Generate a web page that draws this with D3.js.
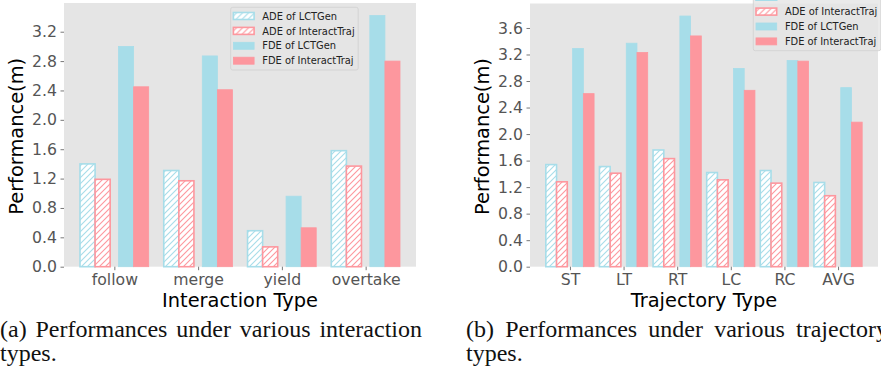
<!DOCTYPE html>
<html>
<head>
<meta charset="utf-8">
<script src="https://cdn.jsdelivr.net/npm/d3@7"></script>
<style>
  body { margin: 0; width: 881px; height: 370px; overflow: hidden; background: #fff; position: relative; }
  svg { position: absolute; left: 0; top: 0; }
  .caption { position: absolute; width: 422px; font-family: "Liberation Serif", "Times New Roman", serif;
             font-size: 24px; line-height: 24px; text-align: justify; color: #111; white-space: normal; }
</style>
</head>
<body>
<script>
const W = 881, H = 370;

// series names
const seriesNames = ["ADE of LCTGen", "ADE of InteractTraj", "FDE of LCTGen", "FDE of InteractTraj"];

// (a) interaction types
const interactionTypes = ["follow", "merge", "yield", "overtake"];
const adeLCTGenInteraction = [1.40, 1.31, 0.49, 1.58];
const adeInteractTrajInteraction = [1.19, 1.17, 0.27, 1.37];
const fdeLCTGenInteraction = [3.00, 2.87, 0.96, 3.42];
const fdeInteractTrajInteraction = [2.45, 2.41, 0.53, 2.80];
const interactionTicks = [0, 0.4, 0.8, 1.2, 1.6, 2.0, 2.4, 2.8, 3.2];

// (b) trajectory types
const trajectoryTypes = ["ST", "LT", "RT", "LC", "RC", "AVG"];
const adeLCTGenTrajectory = [1.54, 1.51, 1.76, 1.42, 1.45, 1.27];
const adeInteractTrajTrajectory = [1.28, 1.41, 1.63, 1.31, 1.26, 1.07];
const fdeLCTGenTrajectory = [3.29, 3.37, 3.78, 2.99, 3.11, 2.70];
const fdeInteractTrajTrajectory = [2.61, 3.23, 3.48, 2.66, 3.10, 2.18];
const trajectoryTicks = [0, 0.4, 0.8, 1.2, 1.6, 2.0, 2.4, 2.8, 3.2, 3.6];

const blue = "#a7dde9";
const pink = "#fd979e";
const bg = "#e5e5e5";
const tickColor = "#555";

const svg = d3.select("body").append("svg").attr("width", W).attr("height", H);
const defs = svg.append("defs");

function hatch(id, color) {
  const p = defs.append("pattern").attr("id", id)
    .attr("patternUnits", "userSpaceOnUse").attr("width", 6).attr("height", 6);
  p.append("rect").attr("width", 6).attr("height", 6).attr("fill", "#fff");
  p.append("path").attr("d", "M0,6 L6,0 M-1,1 L1,-1 M5,7 L7,5")
    .attr("stroke", color).attr("stroke-width", 1.1);
}
hatch("hatch-blue", blue);
hatch("hatch-pink", pink);

const styles = [
  { fill: "url(#hatch-blue)", stroke: blue, sw: 1.6 },
  { fill: "url(#hatch-pink)", stroke: pink, sw: 1.6 },
  { fill: blue, stroke: blue, sw: 0.8 },
  { fill: pink, stroke: pink, sw: 0.8 }
];

function drawChart(cfg) {
  const g = svg.append("g");
  const n = cfg.categories.length;
  const lo = d3.min(cfg.offsets) - cfg.barWidth / 2;
  const hi = n - 1 + d3.max(cfg.offsets) + cfg.barWidth / 2;
  const pad = (hi - lo) * 0.05;
  const x = d3.scaleLinear().domain([lo - pad, hi + pad]).range([cfg.left, cfg.right]);
  const ymax = d3.max(cfg.series.flat()) * 1.05;
  const y = d3.scaleLinear().domain([0, ymax]).range([cfg.bottom, cfg.top]);

  g.append("rect").attr("x", cfg.left).attr("y", cfg.top)
    .attr("width", cfg.right - cfg.left).attr("height", cfg.bottom - cfg.top).attr("fill", bg);

  cfg.series.forEach((vals, s) => {
    g.append("g").selectAll("rect")
      .data(vals)
      .join("rect")
      .attr("x", (d, i) => x(i + cfg.offsets[s] - cfg.barWidth / 2))
      .attr("width", x(cfg.barWidth) - x(0))
      .attr("y", d => y(d))
      .attr("height", d => y(0) - y(d))
      .attr("fill", styles[s].fill)
      .attr("stroke", styles[s].stroke)
      .attr("stroke-width", styles[s].sw);
  });

  const xAxis = g.append("g").attr("transform", `translate(0,${cfg.bottom})`)
    .call(d3.axisBottom(x).tickValues(d3.range(n)).tickFormat(i => cfg.categories[i])
      .tickSizeInner(3.5).tickSizeOuter(0).tickPadding(3.5));
  const yAxis = g.append("g").attr("transform", `translate(${cfg.left},0)`)
    .call(d3.axisLeft(y).tickValues(cfg.yTicks).tickFormat(d3.format(".1f"))
      .tickSizeInner(3.5).tickSizeOuter(0).tickPadding(3.5));
  [xAxis, yAxis].forEach(a => {
    a.select(".domain").remove();
    a.selectAll("line").attr("stroke", tickColor).attr("stroke-width", 0.8);
    a.selectAll("text").attr("fill", tickColor)
      .attr("font-family", "DejaVu Sans").attr("font-size", 15.7);
  });

  g.append("text").attr("x", (cfg.left + cfg.right) / 2).attr("y", 307)
    .attr("text-anchor", "middle").attr("font-family", "DejaVu Sans").attr("font-size", 19.4)
    .attr("fill", "#000").text(cfg.xTitle);
  g.append("text").attr("transform", `translate(${cfg.yTitleX},${(cfg.top + cfg.bottom) / 2 + 1.5}) rotate(-90)`)
    .attr("text-anchor", "middle").attr("font-family", "DejaVu Sans").attr("font-size", 19.4)
    .attr("fill", "#000").text("Performance(m)");

  // legend
  const lg = g.append("g").attr("transform", `translate(${cfg.legendX},${cfg.legendY})`);
  lg.append("rect").attr("x", 0).attr("y", 0).attr("width", 127.5).attr("height", 62.7)
    .attr("rx", 2).attr("fill", bg).attr("fill-opacity", 0.8)
    .attr("stroke", "#cfcfcf").attr("stroke-width", 0.8);
  const items = lg.selectAll("g.item").data(seriesNames).join("g").attr("class", "item")
    .attr("transform", (d, i) => `translate(2.7,${8.7 + i * 14.9})`);
  items.append("rect").attr("x", 0).attr("y", -3.5).attr("width", 20.7).attr("height", 7)
    .attr("fill", (d, i) => styles[i].fill).attr("stroke", (d, i) => styles[i].stroke)
    .attr("stroke-width", (d, i) => styles[i].sw);
  items.append("text").attr("x", 28.9).attr("y", 3.6)
    .attr("font-family", "DejaVu Sans").attr("font-size", 9.9).attr("fill", "#222").text(d => d);
}

drawChart({
  categories: interactionTypes,
  series: [adeLCTGenInteraction, adeInteractTrajInteraction, fdeLCTGenInteraction, fdeInteractTrajInteraction],
  offsets: [-0.32, -0.14, 0.14, 0.32], barWidth: 0.18,
  left: 64, right: 416, top: 3, bottom: 266.7,
  yTicks: interactionTicks, xTitle: "Interaction Type", yTitleX: 22.5,
  legendX: 230.7, legendY: 7.3
});

drawChart({
  categories: trajectoryTypes,
  series: [adeLCTGenTrajectory, adeInteractTrajTrajectory, fdeLCTGenTrajectory, fdeInteractTrajTrajectory],
  offsets: [-0.35, -0.15, 0.15, 0.35], barWidth: 0.2,
  left: 530, right: 878, top: 3.5, bottom: 266.7,
  yTicks: trajectoryTicks, xTitle: "Trajectory Type", yTitleX: 489,
  legendX: 753.3, legendY: -12
});

d3.select("body").append("div").attr("class", "caption")
  .style("left", "0px").style("top", "316.6px")
  .text("(a) Performances under various interaction types.");
d3.select("body").append("div").attr("class", "caption")
  .style("left", "466px").style("top", "316.6px")
  .text("(b) Performances under various trajectory types.");
</script>
</body>
</html>
